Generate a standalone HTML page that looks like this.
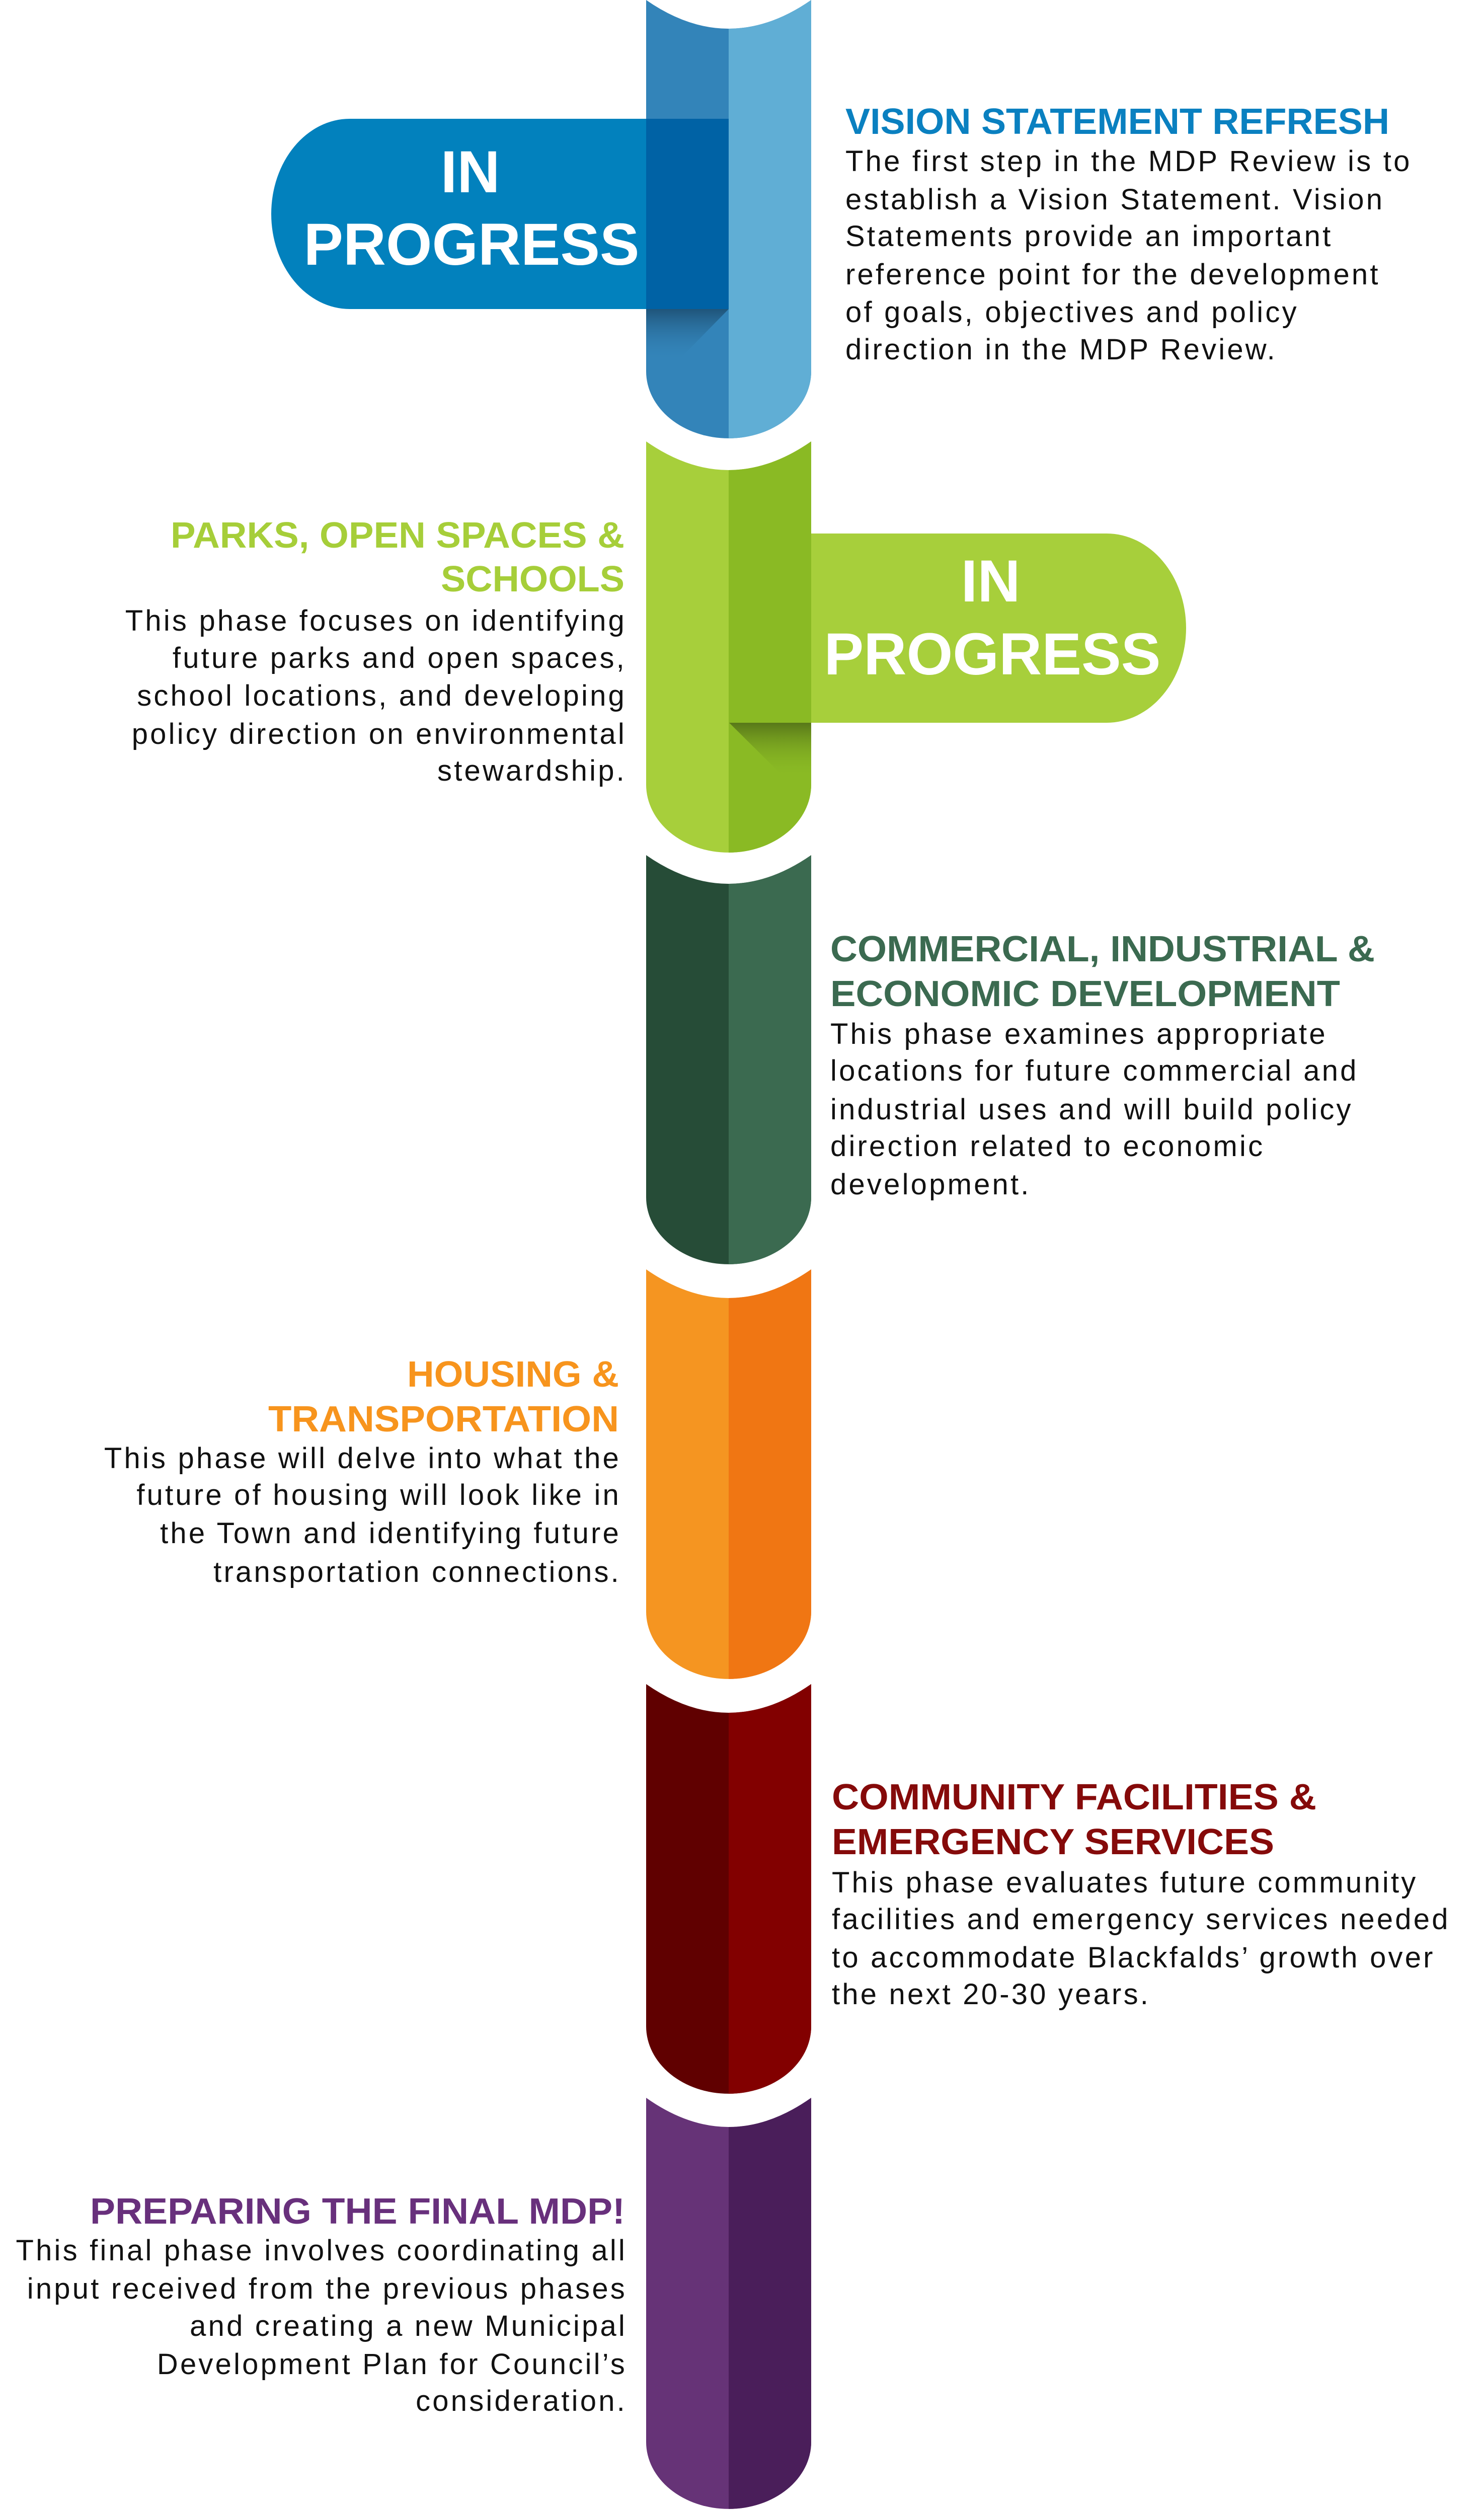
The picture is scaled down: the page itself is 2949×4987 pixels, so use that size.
<!DOCTYPE html>
<html><head><meta charset="utf-8"><style>html,body{margin:0;padding:0;background:#fff}svg{display:block}</style></head>
<body>
<svg width="2949" height="4987" viewBox="0 0 2949 4987" xmlns="http://www.w3.org/2000/svg">
<defs>
<clipPath id="rh"><rect x="1448" y="0" width="400" height="4987"/></clipPath>
<linearGradient id="bs" x1="0" y1="0" x2="0" y2="1"><stop offset="0" stop-color="#1d4f73" stop-opacity="0.9"/><stop offset="1" stop-color="#3384b9" stop-opacity="0"/></linearGradient>
<linearGradient id="gs" x1="0" y1="0" x2="0" y2="1"><stop offset="0" stop-color="#587819"/><stop offset="1" stop-color="#8aba24" stop-opacity="0"/></linearGradient>
</defs>
<path d="M1284 0 Q1448 114 1612 0 L1612 738 A164 133 0 0 1 1284 738 Z" fill="#3384b9"/>
<path d="M1284 0 Q1448 114 1612 0 L1612 738 A164 133 0 0 1 1284 738 Z" fill="#60aed5" clip-path="url(#rh)"/>
<path d="M1284 877 Q1448 991 1612 877 L1612 1559 A164 135 0 0 1 1284 1559 Z" fill="#a7cf3b"/>
<path d="M1284 877 Q1448 991 1612 877 L1612 1559 A164 135 0 0 1 1284 1559 Z" fill="#8aba24" clip-path="url(#rh)"/>
<path d="M1284 1699 Q1448 1813 1612 1699 L1612 2379 A164 133 0 0 1 1284 2379 Z" fill="#264c37"/>
<path d="M1284 1699 Q1448 1813 1612 1699 L1612 2379 A164 133 0 0 1 1284 2379 Z" fill="#3b6a50" clip-path="url(#rh)"/>
<path d="M1284 2522 Q1448 2636 1612 2522 L1612 3202 A164 134 0 0 1 1284 3202 Z" fill="#f59521"/>
<path d="M1284 2522 Q1448 2636 1612 2522 L1612 3202 A164 134 0 0 1 1284 3202 Z" fill="#f07613" clip-path="url(#rh)"/>
<path d="M1284 3346 Q1448 3460 1612 3346 L1612 4026 A164 134 0 0 1 1284 4026 Z" fill="#600000"/>
<path d="M1284 3346 Q1448 3460 1612 3346 L1612 4026 A164 134 0 0 1 1284 4026 Z" fill="#820000" clip-path="url(#rh)"/>
<path d="M1284 4168 Q1448 4284 1612 4168 L1612 4852 A164 133 0 0 1 1284 4852 Z" fill="#663377"/>
<path d="M1284 4168 Q1448 4284 1612 4168 L1612 4852 A164 133 0 0 1 1284 4852 Z" fill="#4a1e5a" clip-path="url(#rh)"/>

<path d="M1448 236 L695 236 A156 189 0 0 0 695 614 L1448 614 Z" fill="#0281bd"/>
<rect x="1284" y="236" width="164" height="378" fill="#0062a5"/>
<polygon points="1284,614 1448,614 1346,718 1284,718" fill="url(#bs)"/>
<text font-family="Liberation Sans, sans-serif" font-weight="bold" fill="#fff" font-size="118" text-anchor="middle">
<tspan x="951" y="382">IN</tspan>
<tspan x="937" y="526" textLength="667" lengthAdjust="spacingAndGlyphs">PROGRESS</tspan></text>

<path d="M1612 1060 L2199 1060 A158 188 0 0 1 2199 1436 L1612 1436 Z" fill="#a7cf3b"/>
<polygon points="1449,1436 1612,1436 1612,1546 1560,1546" fill="url(#gs)"/>
<text font-family="Liberation Sans, sans-serif" font-weight="bold" fill="#fff" font-size="118" text-anchor="middle">
<tspan x="1985" y="1195">IN</tspan>
<tspan x="1972" y="1340" textLength="669" lengthAdjust="spacingAndGlyphs">PROGRESS</tspan></text>

<g font-family="Liberation Sans, sans-serif" font-size="58" fill="#111" letter-spacing="4.2">
<text x="1680" y="266" font-weight="bold" font-size="72" fill="#0a80c0" letter-spacing="0" textLength="1081" lengthAdjust="spacingAndGlyphs">VISION STATEMENT REFRESH</text>
<text x="1680" y="340">The first step in the MDP Review is to</text>
<text x="1680" y="416">establish a Vision Statement. Vision</text>
<text x="1680" y="489">Statements provide an important</text>
<text x="1680" y="565">reference point for the development</text>
<text x="1680" y="640">of goals, objectives and policy</text>
<text x="1680" y="714">direction in the MDP Review.</text>

<g text-anchor="end">
<text x="1241" y="1088" font-weight="bold" font-size="72" fill="#a6ce39" letter-spacing="0" textLength="902" lengthAdjust="spacingAndGlyphs">PARKS, OPEN SPACES &amp;</text>
<text x="1241" y="1175" font-weight="bold" font-size="72" fill="#a6ce39" letter-spacing="0" textLength="365" lengthAdjust="spacingAndGlyphs">SCHOOLS</text>
<text x="1245" y="1253">This phase focuses on identifying</text>
<text x="1245" y="1327">future parks and open spaces,</text>
<text x="1245" y="1402">school locations, and developing</text>
<text x="1245" y="1478">policy direction on environmental</text>
<text x="1245" y="1551">stewardship.</text>
</g>

<text x="1650" y="1910" font-weight="bold" font-size="72" fill="#3b6a50" letter-spacing="0" textLength="1082" lengthAdjust="spacingAndGlyphs">COMMERCIAL, INDUSTRIAL &amp;</text>
<text x="1650" y="1999" font-weight="bold" font-size="72" fill="#3b6a50" letter-spacing="0" textLength="1013" lengthAdjust="spacingAndGlyphs">ECONOMIC DEVELOPMENT</text>
<text x="1650" y="2074">This phase examines appropriate</text>
<text x="1650" y="2147">locations for future commercial and</text>
<text x="1650" y="2224">industrial uses and will build policy</text>
<text x="1650" y="2297">direction related to economic</text>
<text x="1650" y="2373">development.</text>

<g text-anchor="end">
<text x="1230" y="2755" font-weight="bold" font-size="72" fill="#f7941d" letter-spacing="0" textLength="421" lengthAdjust="spacingAndGlyphs">HOUSING &amp;</text>
<text x="1230" y="2844" font-weight="bold" font-size="72" fill="#f7941d" letter-spacing="0" textLength="697" lengthAdjust="spacingAndGlyphs">TRANSPORTATION</text>
<text x="1234" y="2917">This phase will delve into what the</text>
<text x="1234" y="2990">future of housing will look like in</text>
<text x="1234" y="3066">the Town and identifying future</text>
<text x="1234" y="3143">transportation connections.</text>
</g>

<text x="1653" y="3595" font-weight="bold" font-size="72" fill="#850a0a" letter-spacing="0" textLength="963" lengthAdjust="spacingAndGlyphs">COMMUNITY FACILITIES &amp;</text>
<text x="1653" y="3684" font-weight="bold" font-size="72" fill="#850a0a" letter-spacing="0" textLength="879" lengthAdjust="spacingAndGlyphs">EMERGENCY SERVICES</text>
<text x="1653" y="3760">This phase evaluates future community</text>
<text x="1653" y="3833">facilities and emergency services needed</text>
<text x="1653" y="3909">to accommodate Blackfalds’ growth over</text>
<text x="1653" y="3982">the next 20-30 years.</text>

<g text-anchor="end">
<text x="1242" y="4418" font-weight="bold" font-size="72" fill="#68307c" letter-spacing="0" textLength="1063" lengthAdjust="spacingAndGlyphs">PREPARING THE FINAL MDP!</text>
<text x="1246" y="4491">This final phase involves coordinating all</text>
<text x="1246" y="4567">input received from the previous phases</text>
<text x="1246" y="4641">and creating a new Municipal</text>
<text x="1246" y="4717">Development Plan for Council’s</text>
<text x="1246" y="4790">consideration.</text>
</g>
</g>
</svg>
</body></html>
